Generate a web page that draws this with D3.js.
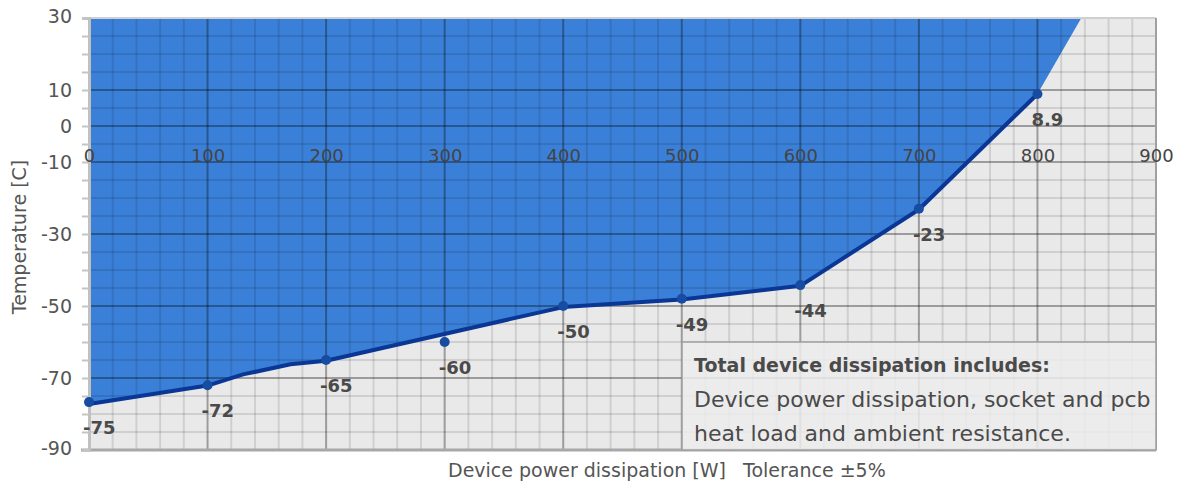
<!DOCTYPE html>
<html>
<head>
<meta charset="utf-8">
<script src="https://cdn.jsdelivr.net/npm/d3@7"></script>
<style>
  body { margin: 0; background: #fff; }
  svg { display: block; font-family: "DejaVu Sans", sans-serif; }
</style>
</head>
<body>
<svg id="chart" width="1193" height="489"></svg>
<script>
// measured points (W, C) and their printed labels
var powerX = [0, 100, 200, 300, 400, 500, 600, 700, 800];
var tempY = [-76.7, -72, -65, -60, -50, -48, -44.2, -23, 8.9];
var pointLabels = ["-75", "-72", "-65", "-60", "-50", "-49", "-44", "-23", "8.9"];

// the drawn curve does not go exactly through every marker
var lineX = [0, 100, 130, 170, 200, 400, 500, 600, 700, 800];
var lineY = [-77.2, -72.1, -69, -66.2, -65.2, -50.3, -48.2, -44.4, -23.2, 8.9];

// blue fill ends at the top of the chart a bit after 800 W
var fillEndX = 837;
var fillEndY = 30;

var xTicks = [0, 100, 200, 300, 400, 500, 600, 700, 800, 900];
var yTicks = [30, 10, 0, -10, -30, -50, -70, -90];

var noteLines = ["Total device dissipation includes:",
  "Device power dissipation, socket and pcb",
  "heat load and ambient resistance."];

var w = 1193, h = 489;
var margin = {top: 18, right: 37, bottom: 39, left: 89};

var svg = d3.select("#chart");

var x = d3.scaleLinear().domain([0, 900]).range([margin.left, w - margin.right]);
var y = d3.scaleLinear().domain([-90, 30]).range([h - margin.bottom, margin.top]);

// plot background
svg.append("rect")
  .attr("x", x(0)).attr("y", y(30))
  .attr("width", x(900) - x(0)).attr("height", y(-90) - y(30))
  .attr("fill", "#e9e9e9");

// blue area above the curve
var fillPts = lineX.map(function(d, i) { return [d, lineY[i]]; });
fillPts.push([fillEndX, fillEndY]);
var area = d3.area()
  .x(function(d) { return x(d[0]); })
  .y0(y(30))
  .y1(function(d) { return y(d[1]); });
svg.append("path")
  .datum(fillPts)
  .attr("d", area)
  .attr("fill", "#3b80d8");

// grid
var grid = svg.append("g");
d3.range(0, 901, 20).forEach(function(v) {
  var major = v % 100 === 0;
  grid.append("line")
    .attr("x1", x(v)).attr("x2", x(v))
    .attr("y1", y(30)).attr("y2", y(-90))
    .attr("stroke", major ? "rgba(0,0,0,0.33)" : "rgba(0,0,0,0.11)")
    .attr("stroke-width", 2);
});
d3.range(-90, 31, 5).forEach(function(v) {
  var major = yTicks.indexOf(v) >= 0;
  grid.append("line")
    .attr("x1", x(0)).attr("x2", x(900))
    .attr("y1", y(v)).attr("y2", y(v))
    .attr("stroke", major ? "rgba(0,0,0,0.33)" : "rgba(0,0,0,0.11)")
    .attr("stroke-width", 2);
});

// frame
svg.append("line").attr("x1", x(0)).attr("x2", x(900)).attr("y1", y(30)).attr("y2", y(30))
  .attr("stroke", "#d0d0d0").attr("stroke-width", 2);
svg.append("line").attr("x1", x(900)).attr("x2", x(900)).attr("y1", y(30)).attr("y2", y(-90))
  .attr("stroke", "#a0a0a0").attr("stroke-width", 2);
svg.append("line").attr("x1", x(0) - 8).attr("x2", x(900)).attr("y1", y(-90)).attr("y2", y(-90))
  .attr("stroke", "#a8a8a8").attr("stroke-width", 3);

// y axis
var yAxis = d3.axisLeft(y)
  .tickValues(d3.range(-90, 31, 5))
  .tickSize(7)
  .tickFormat(function(d) { return yTicks.indexOf(d) >= 0 ? d : ""; });
var gy = svg.append("g")
  .attr("transform", "translate(" + x(0) + ",0)")
  .call(yAxis);
gy.attr("font-family", null).attr("font-size", null);
gy.select(".domain").attr("stroke", "#c0c0c0").attr("stroke-width", 3);
gy.selectAll(".tick line").attr("stroke", "#c4c4c4").attr("stroke-width", 2);
gy.selectAll(".tick text")
  .attr("x", -17)
  .attr("fill", "#555")
  .style("font-size", "19px");
gy.selectAll(".tick text").filter(function(d) { return d === -90 || d === 30; }).attr("dy", "0.25em");

// x axis labels sitting under the zero line
var xAxis = d3.axisBottom(x).tickValues(xTicks).tickSize(0);
var gx = svg.append("g")
  .attr("transform", "translate(0," + y(0) + ")")
  .call(xAxis);
gx.attr("font-family", null).attr("font-size", null);
gx.select(".domain").remove();
gx.selectAll(".tick text")
  .attr("y", 0)
  .attr("dy", 36)
  .attr("fill", "#444")
  .style("font-size", "18px");

// curve
var line = d3.line()
  .x(function(d) { return x(d[0]); })
  .y(function(d) { return y(d[1]); });
svg.append("path")
  .datum(lineX.map(function(d, i) { return [d, lineY[i]]; }))
  .attr("d", line)
  .attr("fill", "none")
  .attr("stroke", "#0a3796")
  .attr("stroke-width", 4)
  .attr("stroke-linejoin", "round");

// markers
svg.selectAll("circle.pt")
  .data(powerX)
  .enter()
  .append("circle")
  .attr("class", "pt")
  .attr("cx", function(d) { return x(d); })
  .attr("cy", function(d, i) { return y(tempY[i]); })
  .attr("r", 5)
  .attr("fill", "#164da3");

svg.selectAll("text.lbl")
  .data(powerX)
  .enter()
  .append("text")
  .attr("class", "lbl")
  .attr("x", function(d) { return x(d) - 6; })
  .attr("y", function(d, i) { return y(tempY[i]) + 32; })
  .attr("fill", "#4a4a4a")
  .style("font-size", "18px")
  .style("font-weight", "bold")
  .text(function(d, i) { return pointLabels[i]; });

// note box
var note = svg.append("g");
note.append("rect")
  .attr("x", 682).attr("y", 342)
  .attr("width", x(900) - 682).attr("height", y(-90) - 342)
  .attr("fill", "rgba(236,236,236,0.85)")
  .attr("stroke", "#a0a0a0")
  .attr("stroke-width", 1.5);
note.selectAll("text")
  .data(noteLines)
  .enter()
  .append("text")
  .attr("x", 694)
  .attr("y", function(d, i) { return 372 + i * 34.5; })
  .attr("fill", "#4a4a4a")
  .style("font-size", function(d, i) { return i === 0 ? "19px" : "22px"; })
  .style("font-weight", function(d, i) { return i === 0 ? "bold" : "normal"; })
  .text(function(d) { return d; });

// axis titles
svg.append("text")
  .attr("transform", "translate(26,237) rotate(-90)")
  .attr("text-anchor", "middle")
  .attr("fill", "#555")
  .style("font-size", "19px")
  .text("Temperature [C]");

svg.append("text")
  .attr("x", 448).attr("y", 477)
  .attr("fill", "#555")
  .style("font-size", "19px")
  .text("Device power dissipation [W]");
svg.append("text")
  .attr("x", 743).attr("y", 477)
  .attr("fill", "#555")
  .style("font-size", "19px")
  .text("Tolerance \u00b15%");
</script>
</body>
</html>
